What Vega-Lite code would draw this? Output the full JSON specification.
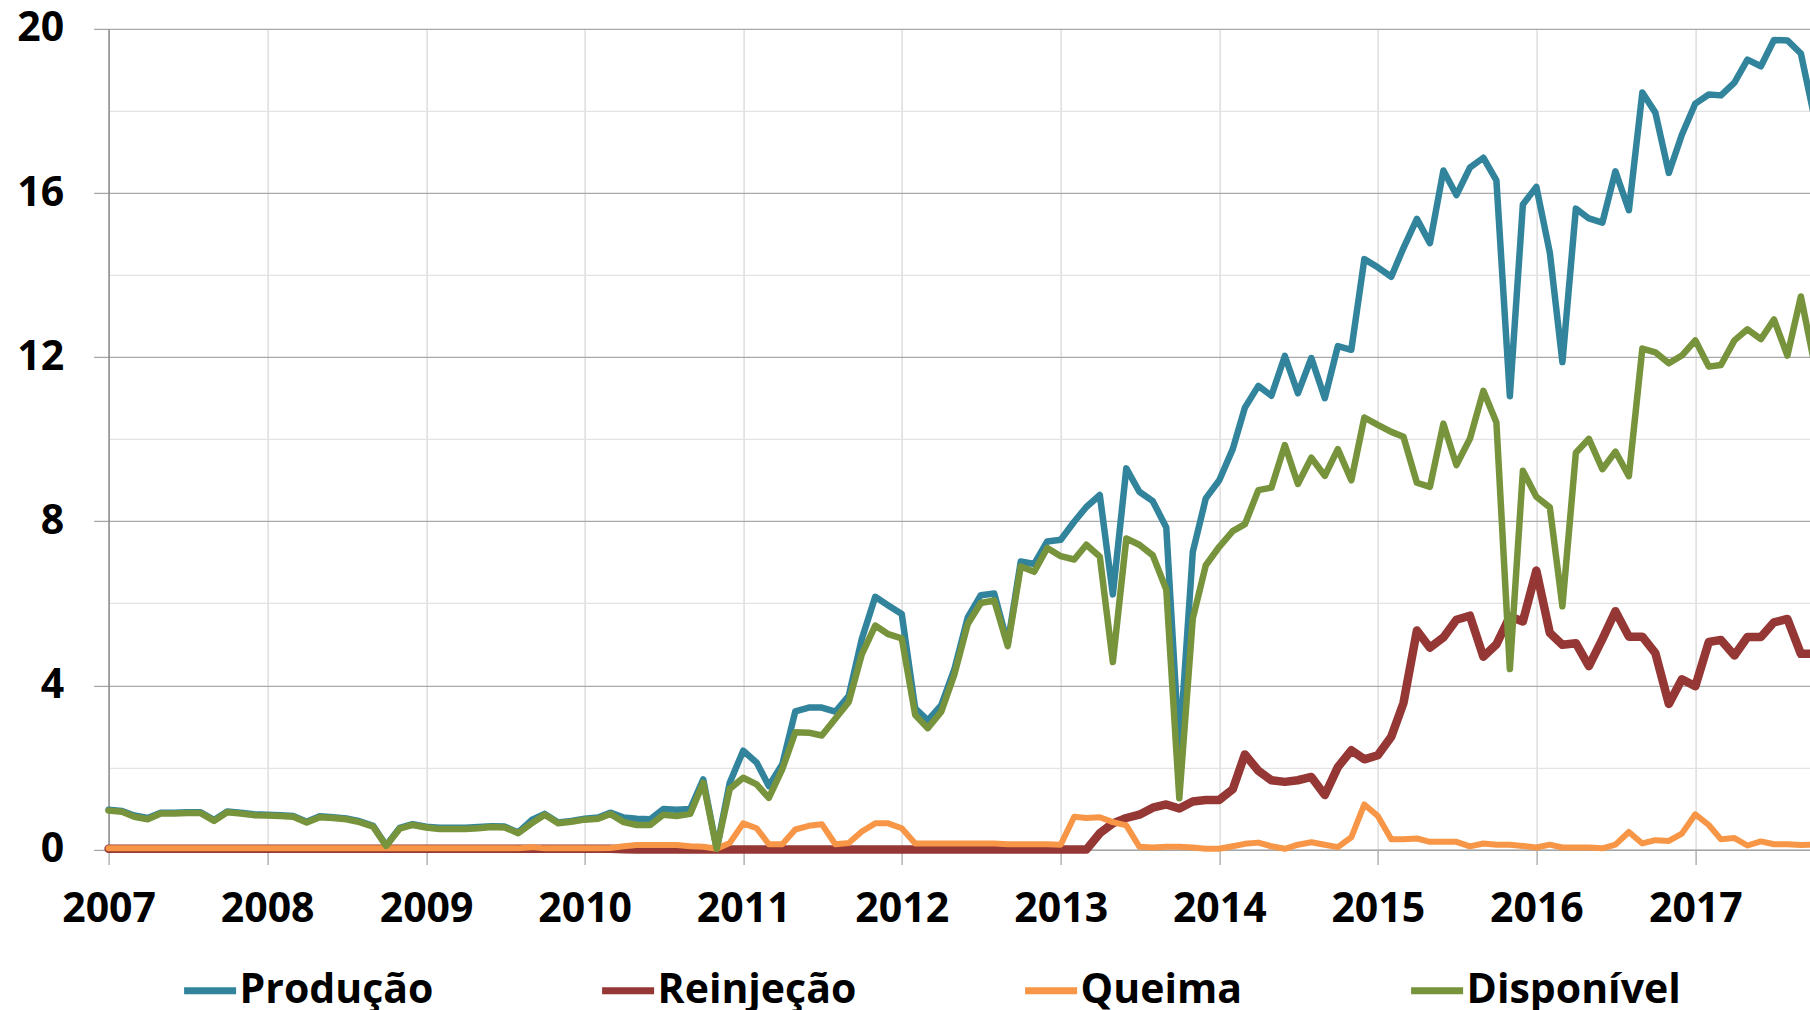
{
"$schema": "https://vega.github.io/schema/vega-lite/v6.json",
"width": 1701.4,
"height": 820.7,
"autosize": {"type": "none"},
"padding": {"left": 108.6, "top": 28.9, "right": 0, "bottom": 160.4},
"background": "white",
"config": {"view": {"stroke": null}, "font": "Open Sans"},
"data": {"values": [
{"d":"2007-01-01","s":"Produção","v":0.97},{"d":"2007-02-01","s":"Produção","v":0.94},{"d":"2007-03-01","s":"Produção","v":0.83},{"d":"2007-04-01","s":"Produção","v":0.77},{"d":"2007-05-01","s":"Produção","v":0.90},{"d":"2007-06-01","s":"Produção","v":0.90},{"d":"2007-07-01","s":"Produção","v":0.91},{"d":"2007-08-01","s":"Produção","v":0.91},{"d":"2007-09-01","s":"Produção","v":0.72},{"d":"2007-10-01","s":"Produção","v":0.93},{"d":"2007-11-01","s":"Produção","v":0.90},{"d":"2007-12-01","s":"Produção","v":0.86},
{"d":"2008-01-01","s":"Produção","v":0.85},{"d":"2008-02-01","s":"Produção","v":0.84},{"d":"2008-03-01","s":"Produção","v":0.82},{"d":"2008-04-01","s":"Produção","v":0.68},{"d":"2008-05-01","s":"Produção","v":0.81},{"d":"2008-06-01","s":"Produção","v":0.79},{"d":"2008-07-01","s":"Produção","v":0.76},{"d":"2008-08-01","s":"Produção","v":0.69},{"d":"2008-09-01","s":"Produção","v":0.58},{"d":"2008-10-01","s":"Produção","v":0.10},{"d":"2008-11-01","s":"Produção","v":0.53},{"d":"2008-12-01","s":"Produção","v":0.62},
{"d":"2009-01-01","s":"Produção","v":0.56},{"d":"2009-02-01","s":"Produção","v":0.53},{"d":"2009-03-01","s":"Produção","v":0.53},{"d":"2009-04-01","s":"Produção","v":0.53},{"d":"2009-05-01","s":"Produção","v":0.55},{"d":"2009-06-01","s":"Produção","v":0.57},{"d":"2009-07-01","s":"Produção","v":0.56},{"d":"2009-08-01","s":"Produção","v":0.42},{"d":"2009-09-01","s":"Produção","v":0.72},{"d":"2009-10-01","s":"Produção","v":0.87},{"d":"2009-11-01","s":"Produção","v":0.66},{"d":"2009-12-01","s":"Produção","v":0.70},
{"d":"2010-01-01","s":"Produção","v":0.75},{"d":"2010-02-01","s":"Produção","v":0.78},{"d":"2010-03-01","s":"Produção","v":0.90},{"d":"2010-04-01","s":"Produção","v":0.78},{"d":"2010-05-01","s":"Produção","v":0.75},{"d":"2010-06-01","s":"Produção","v":0.74},{"d":"2010-07-01","s":"Produção","v":0.99},{"d":"2010-08-01","s":"Produção","v":0.97},{"d":"2010-09-01","s":"Produção","v":0.99},{"d":"2010-10-01","s":"Produção","v":1.71},{"d":"2010-11-01","s":"Produção","v":0.02},{"d":"2010-12-01","s":"Produção","v":1.63},
{"d":"2011-01-01","s":"Produção","v":2.41},{"d":"2011-02-01","s":"Produção","v":2.12},{"d":"2011-03-01","s":"Produção","v":1.55},{"d":"2011-04-01","s":"Produção","v":2.08},{"d":"2011-05-01","s":"Produção","v":3.37},{"d":"2011-06-01","s":"Produção","v":3.46},{"d":"2011-07-01","s":"Produção","v":3.46},{"d":"2011-08-01","s":"Produção","v":3.36},{"d":"2011-09-01","s":"Produção","v":3.75},{"d":"2011-10-01","s":"Produção","v":5.13},{"d":"2011-11-01","s":"Produção","v":6.16},{"d":"2011-12-01","s":"Produção","v":5.95},
{"d":"2012-01-01","s":"Produção","v":5.74},{"d":"2012-02-01","s":"Produção","v":3.44},{"d":"2012-03-01","s":"Produção","v":3.15},{"d":"2012-04-01","s":"Produção","v":3.52},{"d":"2012-05-01","s":"Produção","v":4.39},{"d":"2012-06-01","s":"Produção","v":5.66},{"d":"2012-07-01","s":"Produção","v":6.20},{"d":"2012-08-01","s":"Produção","v":6.24},{"d":"2012-09-01","s":"Produção","v":5.02},{"d":"2012-10-01","s":"Produção","v":7.02},{"d":"2012-11-01","s":"Produção","v":6.96},{"d":"2012-12-01","s":"Produção","v":7.51},
{"d":"2013-01-01","s":"Produção","v":7.55},{"d":"2013-02-01","s":"Produção","v":7.99},{"d":"2013-03-01","s":"Produção","v":8.35},{"d":"2013-04-01","s":"Produção","v":8.64},{"d":"2013-05-01","s":"Produção","v":6.22},{"d":"2013-06-01","s":"Produção","v":9.29},{"d":"2013-07-01","s":"Produção","v":8.72},{"d":"2013-08-01","s":"Produção","v":8.49},{"d":"2013-09-01","s":"Produção","v":7.85},{"d":"2013-10-01","s":"Produção","v":2.40},{"d":"2013-11-01","s":"Produção","v":7.25},{"d":"2013-12-01","s":"Produção","v":8.56},
{"d":"2014-01-01","s":"Produção","v":9.00},{"d":"2014-02-01","s":"Produção","v":9.76},{"d":"2014-03-01","s":"Produção","v":10.77},{"d":"2014-04-01","s":"Produção","v":11.30},{"d":"2014-05-01","s":"Produção","v":11.06},{"d":"2014-06-01","s":"Produção","v":12.03},{"d":"2014-07-01","s":"Produção","v":11.12},{"d":"2014-08-01","s":"Produção","v":11.98},{"d":"2014-09-01","s":"Produção","v":11.00},{"d":"2014-10-01","s":"Produção","v":12.27},{"d":"2014-11-01","s":"Produção","v":12.18},{"d":"2014-12-01","s":"Produção","v":14.39},
{"d":"2015-01-01","s":"Produção","v":14.19},{"d":"2015-02-01","s":"Produção","v":13.96},{"d":"2015-03-01","s":"Produção","v":14.66},{"d":"2015-04-01","s":"Produção","v":15.37},{"d":"2015-05-01","s":"Produção","v":14.78},{"d":"2015-06-01","s":"Produção","v":16.55},{"d":"2015-07-01","s":"Produção","v":15.95},{"d":"2015-08-01","s":"Produção","v":16.62},{"d":"2015-09-01","s":"Produção","v":16.86},{"d":"2015-10-01","s":"Produção","v":16.31},{"d":"2015-11-01","s":"Produção","v":11.05},{"d":"2015-12-01","s":"Produção","v":15.72},
{"d":"2016-01-01","s":"Produção","v":16.15},{"d":"2016-02-01","s":"Produção","v":14.55},{"d":"2016-03-01","s":"Produção","v":11.88},{"d":"2016-04-01","s":"Produção","v":15.62},{"d":"2016-05-01","s":"Produção","v":15.38},{"d":"2016-06-01","s":"Produção","v":15.28},{"d":"2016-07-01","s":"Produção","v":16.53},{"d":"2016-08-01","s":"Produção","v":15.58},{"d":"2016-09-01","s":"Produção","v":18.45},{"d":"2016-10-01","s":"Produção","v":17.96},{"d":"2016-11-01","s":"Produção","v":16.49},{"d":"2016-12-01","s":"Produção","v":17.42},
{"d":"2017-01-01","s":"Produção","v":18.18},{"d":"2017-02-01","s":"Produção","v":18.40},{"d":"2017-03-01","s":"Produção","v":18.38},{"d":"2017-04-01","s":"Produção","v":18.69},{"d":"2017-05-01","s":"Produção","v":19.25},{"d":"2017-06-01","s":"Produção","v":19.09},{"d":"2017-07-01","s":"Produção","v":19.73},{"d":"2017-08-01","s":"Produção","v":19.72},{"d":"2017-09-01","s":"Produção","v":19.40},{"d":"2017-10-01","s":"Produção","v":17.90},

{"d":"2007-01-01","s":"Reinjeção","v":0.02},{"d":"2007-02-01","s":"Reinjeção","v":0.02},{"d":"2007-03-01","s":"Reinjeção","v":0.02},{"d":"2007-04-01","s":"Reinjeção","v":0.02},{"d":"2007-05-01","s":"Reinjeção","v":0.02},{"d":"2007-06-01","s":"Reinjeção","v":0.02},{"d":"2007-07-01","s":"Reinjeção","v":0.02},{"d":"2007-08-01","s":"Reinjeção","v":0.02},{"d":"2007-09-01","s":"Reinjeção","v":0.02},{"d":"2007-10-01","s":"Reinjeção","v":0.02},{"d":"2007-11-01","s":"Reinjeção","v":0.02},{"d":"2007-12-01","s":"Reinjeção","v":0.02},
{"d":"2008-01-01","s":"Reinjeção","v":0.02},{"d":"2008-02-01","s":"Reinjeção","v":0.02},{"d":"2008-03-01","s":"Reinjeção","v":0.02},{"d":"2008-04-01","s":"Reinjeção","v":0.02},{"d":"2008-05-01","s":"Reinjeção","v":0.02},{"d":"2008-06-01","s":"Reinjeção","v":0.02},{"d":"2008-07-01","s":"Reinjeção","v":0.02},{"d":"2008-08-01","s":"Reinjeção","v":0.02},{"d":"2008-09-01","s":"Reinjeção","v":0.02},{"d":"2008-10-01","s":"Reinjeção","v":0.02},{"d":"2008-11-01","s":"Reinjeção","v":0.02},{"d":"2008-12-01","s":"Reinjeção","v":0.02},
{"d":"2009-01-01","s":"Reinjeção","v":0.02},{"d":"2009-02-01","s":"Reinjeção","v":0.02},{"d":"2009-03-01","s":"Reinjeção","v":0.02},{"d":"2009-04-01","s":"Reinjeção","v":0.02},{"d":"2009-05-01","s":"Reinjeção","v":0.02},{"d":"2009-06-01","s":"Reinjeção","v":0.02},{"d":"2009-07-01","s":"Reinjeção","v":0.02},{"d":"2009-08-01","s":"Reinjeção","v":0.02},{"d":"2009-09-01","s":"Reinjeção","v":0.02},{"d":"2009-10-01","s":"Reinjeção","v":0.02},{"d":"2009-11-01","s":"Reinjeção","v":0.02},{"d":"2009-12-01","s":"Reinjeção","v":0.02},
{"d":"2010-01-01","s":"Reinjeção","v":0.02},{"d":"2010-02-01","s":"Reinjeção","v":0.02},{"d":"2010-03-01","s":"Reinjeção","v":0.02},{"d":"2010-04-01","s":"Reinjeção","v":0.01},{"d":"2010-05-01","s":"Reinjeção","v":0.0},{"d":"2010-06-01","s":"Reinjeção","v":0.0},{"d":"2010-07-01","s":"Reinjeção","v":0.0},{"d":"2010-08-01","s":"Reinjeção","v":0.0},{"d":"2010-09-01","s":"Reinjeção","v":0.0},{"d":"2010-10-01","s":"Reinjeção","v":0.0},{"d":"2010-11-01","s":"Reinjeção","v":0.0},{"d":"2010-12-01","s":"Reinjeção","v":0.0},
{"d":"2011-01-01","s":"Reinjeção","v":0.0},{"d":"2011-02-01","s":"Reinjeção","v":0.0},{"d":"2011-03-01","s":"Reinjeção","v":0.0},{"d":"2011-04-01","s":"Reinjeção","v":0.0},{"d":"2011-05-01","s":"Reinjeção","v":0.0},{"d":"2011-06-01","s":"Reinjeção","v":0.0},{"d":"2011-07-01","s":"Reinjeção","v":0.0},{"d":"2011-08-01","s":"Reinjeção","v":0.0},{"d":"2011-09-01","s":"Reinjeção","v":0.0},{"d":"2011-10-01","s":"Reinjeção","v":0.0},{"d":"2011-11-01","s":"Reinjeção","v":0.0},{"d":"2011-12-01","s":"Reinjeção","v":0.0},
{"d":"2012-01-01","s":"Reinjeção","v":0.0},{"d":"2012-02-01","s":"Reinjeção","v":0.0},{"d":"2012-03-01","s":"Reinjeção","v":0.0},{"d":"2012-04-01","s":"Reinjeção","v":0.0},{"d":"2012-05-01","s":"Reinjeção","v":0.0},{"d":"2012-06-01","s":"Reinjeção","v":0.0},{"d":"2012-07-01","s":"Reinjeção","v":0.0},{"d":"2012-08-01","s":"Reinjeção","v":0.0},{"d":"2012-09-01","s":"Reinjeção","v":0.0},{"d":"2012-10-01","s":"Reinjeção","v":0.0},{"d":"2012-11-01","s":"Reinjeção","v":0.0},{"d":"2012-12-01","s":"Reinjeção","v":0.0},
{"d":"2013-01-01","s":"Reinjeção","v":0.0},{"d":"2013-02-01","s":"Reinjeção","v":0.0},{"d":"2013-03-01","s":"Reinjeção","v":0.0},{"d":"2013-04-01","s":"Reinjeção","v":0.40},{"d":"2013-05-01","s":"Reinjeção","v":0.64},{"d":"2013-06-01","s":"Reinjeção","v":0.77},{"d":"2013-07-01","s":"Reinjeção","v":0.85},{"d":"2013-08-01","s":"Reinjeção","v":1.02},{"d":"2013-09-01","s":"Reinjeção","v":1.10},{"d":"2013-10-01","s":"Reinjeção","v":1.00},{"d":"2013-11-01","s":"Reinjeção","v":1.17},{"d":"2013-12-01","s":"Reinjeção","v":1.21},
{"d":"2014-01-01","s":"Reinjeção","v":1.21},{"d":"2014-02-01","s":"Reinjeção","v":1.47},{"d":"2014-03-01","s":"Reinjeção","v":2.32},{"d":"2014-04-01","s":"Reinjeção","v":1.92},{"d":"2014-05-01","s":"Reinjeção","v":1.69},{"d":"2014-06-01","s":"Reinjeção","v":1.65},{"d":"2014-07-01","s":"Reinjeção","v":1.69},{"d":"2014-08-01","s":"Reinjeção","v":1.77},{"d":"2014-09-01","s":"Reinjeção","v":1.33},{"d":"2014-10-01","s":"Reinjeção","v":2.01},{"d":"2014-11-01","s":"Reinjeção","v":2.42},{"d":"2014-12-01","s":"Reinjeção","v":2.20},
{"d":"2015-01-01","s":"Reinjeção","v":2.30},{"d":"2015-02-01","s":"Reinjeção","v":2.75},{"d":"2015-03-01","s":"Reinjeção","v":3.57},{"d":"2015-04-01","s":"Reinjeção","v":5.34},{"d":"2015-05-01","s":"Reinjeção","v":4.92},{"d":"2015-06-01","s":"Reinjeção","v":5.17},{"d":"2015-07-01","s":"Reinjeção","v":5.60},{"d":"2015-08-01","s":"Reinjeção","v":5.70},{"d":"2015-09-01","s":"Reinjeção","v":4.70},{"d":"2015-10-01","s":"Reinjeção","v":5.00},{"d":"2015-11-01","s":"Reinjeção","v":5.68},{"d":"2015-12-01","s":"Reinjeção","v":5.56},
{"d":"2016-01-01","s":"Reinjeção","v":6.80},{"d":"2016-02-01","s":"Reinjeção","v":5.28},{"d":"2016-03-01","s":"Reinjeção","v":4.99},{"d":"2016-04-01","s":"Reinjeção","v":5.03},{"d":"2016-05-01","s":"Reinjeção","v":4.47},{"d":"2016-06-01","s":"Reinjeção","v":5.13},{"d":"2016-07-01","s":"Reinjeção","v":5.81},{"d":"2016-08-01","s":"Reinjeção","v":5.19},{"d":"2016-09-01","s":"Reinjeção","v":5.19},{"d":"2016-10-01","s":"Reinjeção","v":4.79},{"d":"2016-11-01","s":"Reinjeção","v":3.55},{"d":"2016-12-01","s":"Reinjeção","v":4.15},
{"d":"2017-01-01","s":"Reinjeção","v":3.98},{"d":"2017-02-01","s":"Reinjeção","v":5.06},{"d":"2017-03-01","s":"Reinjeção","v":5.11},{"d":"2017-04-01","s":"Reinjeção","v":4.73},{"d":"2017-05-01","s":"Reinjeção","v":5.18},{"d":"2017-06-01","s":"Reinjeção","v":5.18},{"d":"2017-07-01","s":"Reinjeção","v":5.54},{"d":"2017-08-01","s":"Reinjeção","v":5.62},{"d":"2017-09-01","s":"Reinjeção","v":4.77},{"d":"2017-10-01","s":"Reinjeção","v":4.77},

{"d":"2007-01-01","s":"Queima","v":0.03},{"d":"2007-02-01","s":"Queima","v":0.03},{"d":"2007-03-01","s":"Queima","v":0.03},{"d":"2007-04-01","s":"Queima","v":0.03},{"d":"2007-05-01","s":"Queima","v":0.03},{"d":"2007-06-01","s":"Queima","v":0.03},{"d":"2007-07-01","s":"Queima","v":0.03},{"d":"2007-08-01","s":"Queima","v":0.03},{"d":"2007-09-01","s":"Queima","v":0.03},{"d":"2007-10-01","s":"Queima","v":0.03},{"d":"2007-11-01","s":"Queima","v":0.03},{"d":"2007-12-01","s":"Queima","v":0.03},
{"d":"2008-01-01","s":"Queima","v":0.03},{"d":"2008-02-01","s":"Queima","v":0.03},{"d":"2008-03-01","s":"Queima","v":0.03},{"d":"2008-04-01","s":"Queima","v":0.03},{"d":"2008-05-01","s":"Queima","v":0.03},{"d":"2008-06-01","s":"Queima","v":0.03},{"d":"2008-07-01","s":"Queima","v":0.03},{"d":"2008-08-01","s":"Queima","v":0.03},{"d":"2008-09-01","s":"Queima","v":0.03},{"d":"2008-10-01","s":"Queima","v":0.03},{"d":"2008-11-01","s":"Queima","v":0.03},{"d":"2008-12-01","s":"Queima","v":0.03},
{"d":"2009-01-01","s":"Queima","v":0.03},{"d":"2009-02-01","s":"Queima","v":0.03},{"d":"2009-03-01","s":"Queima","v":0.03},{"d":"2009-04-01","s":"Queima","v":0.03},{"d":"2009-05-01","s":"Queima","v":0.03},{"d":"2009-06-01","s":"Queima","v":0.03},{"d":"2009-07-01","s":"Queima","v":0.03},{"d":"2009-08-01","s":"Queima","v":0.03},{"d":"2009-09-01","s":"Queima","v":0.06},{"d":"2009-10-01","s":"Queima","v":0.03},{"d":"2009-11-01","s":"Queima","v":0.03},{"d":"2009-12-01","s":"Queima","v":0.03},
{"d":"2010-01-01","s":"Queima","v":0.03},{"d":"2010-02-01","s":"Queima","v":0.03},{"d":"2010-03-01","s":"Queima","v":0.04},{"d":"2010-04-01","s":"Queima","v":0.08},{"d":"2010-05-01","s":"Queima","v":0.11},{"d":"2010-06-01","s":"Queima","v":0.11},{"d":"2010-07-01","s":"Queima","v":0.11},{"d":"2010-08-01","s":"Queima","v":0.11},{"d":"2010-09-01","s":"Queima","v":0.08},{"d":"2010-10-01","s":"Queima","v":0.07},{"d":"2010-11-01","s":"Queima","v":0.02},{"d":"2010-12-01","s":"Queima","v":0.16},
{"d":"2011-01-01","s":"Queima","v":0.64},{"d":"2011-02-01","s":"Queima","v":0.52},{"d":"2011-03-01","s":"Queima","v":0.13},{"d":"2011-04-01","s":"Queima","v":0.13},{"d":"2011-05-01","s":"Queima","v":0.49},{"d":"2011-06-01","s":"Queima","v":0.58},{"d":"2011-07-01","s":"Queima","v":0.62},{"d":"2011-08-01","s":"Queima","v":0.13},{"d":"2011-09-01","s":"Queima","v":0.16},{"d":"2011-10-01","s":"Queima","v":0.44},{"d":"2011-11-01","s":"Queima","v":0.64},{"d":"2011-12-01","s":"Queima","v":0.64},
{"d":"2012-01-01","s":"Queima","v":0.52},{"d":"2012-02-01","s":"Queima","v":0.15},{"d":"2012-03-01","s":"Queima","v":0.15},{"d":"2012-04-01","s":"Queima","v":0.15},{"d":"2012-05-01","s":"Queima","v":0.15},{"d":"2012-06-01","s":"Queima","v":0.15},{"d":"2012-07-01","s":"Queima","v":0.15},{"d":"2012-08-01","s":"Queima","v":0.15},{"d":"2012-09-01","s":"Queima","v":0.13},{"d":"2012-10-01","s":"Queima","v":0.13},{"d":"2012-11-01","s":"Queima","v":0.13},{"d":"2012-12-01","s":"Queima","v":0.13},
{"d":"2013-01-01","s":"Queima","v":0.12},{"d":"2013-02-01","s":"Queima","v":0.80},{"d":"2013-03-01","s":"Queima","v":0.77},{"d":"2013-04-01","s":"Queima","v":0.79},{"d":"2013-05-01","s":"Queima","v":0.67},{"d":"2013-06-01","s":"Queima","v":0.59},{"d":"2013-07-01","s":"Queima","v":0.07},{"d":"2013-08-01","s":"Queima","v":0.05},{"d":"2013-09-01","s":"Queima","v":0.07},{"d":"2013-10-01","s":"Queima","v":0.07},{"d":"2013-11-01","s":"Queima","v":0.05},{"d":"2013-12-01","s":"Queima","v":0.02},
{"d":"2014-01-01","s":"Queima","v":0.02},{"d":"2014-02-01","s":"Queima","v":0.08},{"d":"2014-03-01","s":"Queima","v":0.14},{"d":"2014-04-01","s":"Queima","v":0.17},{"d":"2014-05-01","s":"Queima","v":0.08},{"d":"2014-06-01","s":"Queima","v":0.02},{"d":"2014-07-01","s":"Queima","v":0.12},{"d":"2014-08-01","s":"Queima","v":0.18},{"d":"2014-09-01","s":"Queima","v":0.12},{"d":"2014-10-01","s":"Queima","v":0.06},{"d":"2014-11-01","s":"Queima","v":0.30},{"d":"2014-12-01","s":"Queima","v":1.10},
{"d":"2015-01-01","s":"Queima","v":0.82},{"d":"2015-02-01","s":"Queima","v":0.25},{"d":"2015-03-01","s":"Queima","v":0.25},{"d":"2015-04-01","s":"Queima","v":0.27},{"d":"2015-05-01","s":"Queima","v":0.19},{"d":"2015-06-01","s":"Queima","v":0.19},{"d":"2015-07-01","s":"Queima","v":0.19},{"d":"2015-08-01","s":"Queima","v":0.08},{"d":"2015-09-01","s":"Queima","v":0.15},{"d":"2015-10-01","s":"Queima","v":0.12},{"d":"2015-11-01","s":"Queima","v":0.12},{"d":"2015-12-01","s":"Queima","v":0.09},
{"d":"2016-01-01","s":"Queima","v":0.05},{"d":"2016-02-01","s":"Queima","v":0.12},{"d":"2016-03-01","s":"Queima","v":0.05},{"d":"2016-04-01","s":"Queima","v":0.05},{"d":"2016-05-01","s":"Queima","v":0.05},{"d":"2016-06-01","s":"Queima","v":0.03},{"d":"2016-07-01","s":"Queima","v":0.12},{"d":"2016-08-01","s":"Queima","v":0.43},{"d":"2016-09-01","s":"Queima","v":0.15},{"d":"2016-10-01","s":"Queima","v":0.23},{"d":"2016-11-01","s":"Queima","v":0.21},{"d":"2016-12-01","s":"Queima","v":0.39},
{"d":"2017-01-01","s":"Queima","v":0.86},{"d":"2017-02-01","s":"Queima","v":0.60},{"d":"2017-03-01","s":"Queima","v":0.25},{"d":"2017-04-01","s":"Queima","v":0.28},{"d":"2017-05-01","s":"Queima","v":0.10},{"d":"2017-06-01","s":"Queima","v":0.20},{"d":"2017-07-01","s":"Queima","v":0.13},{"d":"2017-08-01","s":"Queima","v":0.13},{"d":"2017-09-01","s":"Queima","v":0.11},{"d":"2017-10-01","s":"Queima","v":0.12},

{"d":"2007-01-01","s":"Disponível","v":0.95},{"d":"2007-02-01","s":"Disponível","v":0.92},{"d":"2007-03-01","s":"Disponível","v":0.80},{"d":"2007-04-01","s":"Disponível","v":0.74},{"d":"2007-05-01","s":"Disponível","v":0.88},{"d":"2007-06-01","s":"Disponível","v":0.88},{"d":"2007-07-01","s":"Disponível","v":0.89},{"d":"2007-08-01","s":"Disponível","v":0.89},{"d":"2007-09-01","s":"Disponível","v":0.70},{"d":"2007-10-01","s":"Disponível","v":0.91},{"d":"2007-11-01","s":"Disponível","v":0.88},{"d":"2007-12-01","s":"Disponível","v":0.84},
{"d":"2008-01-01","s":"Disponível","v":0.83},{"d":"2008-02-01","s":"Disponível","v":0.82},{"d":"2008-03-01","s":"Disponível","v":0.80},{"d":"2008-04-01","s":"Disponível","v":0.66},{"d":"2008-05-01","s":"Disponível","v":0.79},{"d":"2008-06-01","s":"Disponível","v":0.77},{"d":"2008-07-01","s":"Disponível","v":0.74},{"d":"2008-08-01","s":"Disponível","v":0.67},{"d":"2008-09-01","s":"Disponível","v":0.56},{"d":"2008-10-01","s":"Disponível","v":0.09},{"d":"2008-11-01","s":"Disponível","v":0.51},{"d":"2008-12-01","s":"Disponível","v":0.60},
{"d":"2009-01-01","s":"Disponível","v":0.54},{"d":"2009-02-01","s":"Disponível","v":0.50},{"d":"2009-03-01","s":"Disponível","v":0.50},{"d":"2009-04-01","s":"Disponível","v":0.50},{"d":"2009-05-01","s":"Disponível","v":0.52},{"d":"2009-06-01","s":"Disponível","v":0.55},{"d":"2009-07-01","s":"Disponível","v":0.54},{"d":"2009-08-01","s":"Disponível","v":0.40},{"d":"2009-09-01","s":"Disponível","v":0.64},{"d":"2009-10-01","s":"Disponível","v":0.85},{"d":"2009-11-01","s":"Disponível","v":0.64},{"d":"2009-12-01","s":"Disponível","v":0.68},
{"d":"2010-01-01","s":"Disponível","v":0.73},{"d":"2010-02-01","s":"Disponível","v":0.75},{"d":"2010-03-01","s":"Disponível","v":0.87},{"d":"2010-04-01","s":"Disponível","v":0.67},{"d":"2010-05-01","s":"Disponível","v":0.60},{"d":"2010-06-01","s":"Disponível","v":0.60},{"d":"2010-07-01","s":"Disponível","v":0.85},{"d":"2010-08-01","s":"Disponível","v":0.82},{"d":"2010-09-01","s":"Disponível","v":0.87},{"d":"2010-10-01","s":"Disponível","v":1.63},{"d":"2010-11-01","s":"Disponível","v":0.02},{"d":"2010-12-01","s":"Disponível","v":1.48},
{"d":"2011-01-01","s":"Disponível","v":1.75},{"d":"2011-02-01","s":"Disponível","v":1.59},{"d":"2011-03-01","s":"Disponível","v":1.26},{"d":"2011-04-01","s":"Disponível","v":1.96},{"d":"2011-05-01","s":"Disponível","v":2.86},{"d":"2011-06-01","s":"Disponível","v":2.85},{"d":"2011-07-01","s":"Disponível","v":2.78},{"d":"2011-08-01","s":"Disponível","v":3.19},{"d":"2011-09-01","s":"Disponível","v":3.60},{"d":"2011-10-01","s":"Disponível","v":4.76},{"d":"2011-11-01","s":"Disponível","v":5.46},{"d":"2011-12-01","s":"Disponível","v":5.25},
{"d":"2012-01-01","s":"Disponível","v":5.15},{"d":"2012-02-01","s":"Disponível","v":3.28},{"d":"2012-03-01","s":"Disponível","v":2.96},{"d":"2012-04-01","s":"Disponível","v":3.36},{"d":"2012-05-01","s":"Disponível","v":4.26},{"d":"2012-06-01","s":"Disponível","v":5.50},{"d":"2012-07-01","s":"Disponível","v":6.01},{"d":"2012-08-01","s":"Disponível","v":6.07},{"d":"2012-09-01","s":"Disponível","v":4.96},{"d":"2012-10-01","s":"Disponível","v":6.90},{"d":"2012-11-01","s":"Disponível","v":6.77},{"d":"2012-12-01","s":"Disponível","v":7.35},
{"d":"2013-01-01","s":"Disponível","v":7.15},{"d":"2013-02-01","s":"Disponível","v":7.07},{"d":"2013-03-01","s":"Disponível","v":7.43},{"d":"2013-04-01","s":"Disponível","v":7.14},{"d":"2013-05-01","s":"Disponível","v":4.57},{"d":"2013-06-01","s":"Disponível","v":7.58},{"d":"2013-07-01","s":"Disponível","v":7.43},{"d":"2013-08-01","s":"Disponível","v":7.17},{"d":"2013-09-01","s":"Disponível","v":6.34},{"d":"2013-10-01","s":"Disponível","v":1.25},{"d":"2013-11-01","s":"Disponível","v":5.63},{"d":"2013-12-01","s":"Disponível","v":6.93},
{"d":"2014-01-01","s":"Disponível","v":7.38},{"d":"2014-02-01","s":"Disponível","v":7.76},{"d":"2014-03-01","s":"Disponível","v":7.93},{"d":"2014-04-01","s":"Disponível","v":8.76},{"d":"2014-05-01","s":"Disponível","v":8.82},{"d":"2014-06-01","s":"Disponível","v":9.86},{"d":"2014-07-01","s":"Disponível","v":8.91},{"d":"2014-08-01","s":"Disponível","v":9.55},{"d":"2014-09-01","s":"Disponível","v":9.11},{"d":"2014-10-01","s":"Disponível","v":9.76},{"d":"2014-11-01","s":"Disponível","v":9.00},{"d":"2014-12-01","s":"Disponível","v":10.53},
{"d":"2015-01-01","s":"Disponível","v":10.35},{"d":"2015-02-01","s":"Disponível","v":10.18},{"d":"2015-03-01","s":"Disponível","v":10.06},{"d":"2015-04-01","s":"Disponível","v":8.94},{"d":"2015-05-01","s":"Disponível","v":8.84},{"d":"2015-06-01","s":"Disponível","v":10.38},{"d":"2015-07-01","s":"Disponível","v":9.37},{"d":"2015-08-01","s":"Disponível","v":10.01},{"d":"2015-09-01","s":"Disponível","v":11.18},{"d":"2015-10-01","s":"Disponível","v":10.41},{"d":"2015-11-01","s":"Disponível","v":4.40},{"d":"2015-12-01","s":"Disponível","v":9.23},
{"d":"2016-01-01","s":"Disponível","v":8.60},{"d":"2016-02-01","s":"Disponível","v":8.34},{"d":"2016-03-01","s":"Disponível","v":5.93},{"d":"2016-04-01","s":"Disponível","v":9.67},{"d":"2016-05-01","s":"Disponível","v":10.01},{"d":"2016-06-01","s":"Disponível","v":9.27},{"d":"2016-07-01","s":"Disponível","v":9.70},{"d":"2016-08-01","s":"Disponível","v":9.10},{"d":"2016-09-01","s":"Disponível","v":12.21},{"d":"2016-10-01","s":"Disponível","v":12.12},{"d":"2016-11-01","s":"Disponível","v":11.85},{"d":"2016-12-01","s":"Disponível","v":12.04},
{"d":"2017-01-01","s":"Disponível","v":12.41},{"d":"2017-02-01","s":"Disponível","v":11.77},{"d":"2017-03-01","s":"Disponível","v":11.81},{"d":"2017-04-01","s":"Disponível","v":12.41},{"d":"2017-05-01","s":"Disponível","v":12.68},{"d":"2017-06-01","s":"Disponível","v":12.44},{"d":"2017-07-01","s":"Disponível","v":12.92},{"d":"2017-08-01","s":"Disponível","v":12.04},{"d":"2017-09-01","s":"Disponível","v":13.48},{"d":"2017-10-01","s":"Disponível","v":11.90}
]},
"encoding": {
  "x": {"field": "d", "type": "temporal",
    "scale": {"type": "utc", "nice": false, "domain": [{"year": 2007, "month": 1, "date": 1, "utc": true}, {"year": 2017, "month": 9, "date": 22, "utc": true}]},
    "axis": {"title": null, "tickCount": {"interval": "year", "step": 1}, "format": "%Y", "formatType": "utc",
      "labelFont": "Open Sans", "labelFontSize": 41, "labelFontWeight": "bold", "labelColor": "#000000",
      "labelPadding": 25, "labelFlush": false, "labelOverlap": false,
      "tickSize": 15, "tickColor": "#a6a6a6", "tickWidth": 1.3,
      "domainColor": "#a6a6a6", "domainWidth": 1.3,
      "grid": true, "gridColor": "#d9d9d9", "gridWidth": 1.3}},
  "y": {"field": "v", "type": "quantitative",
    "scale": {"domain": [0, 20], "nice": false, "zero": true},
    "axis": {"title": null, "values": [0, 2, 4, 6, 8, 10, 12, 14, 16, 18, 20],
      "labelExpr": "datum.value % 4 === 0 ? datum.label : ''",
      "labelFont": "Open Sans", "labelFontSize": 41, "labelFontWeight": "bold", "labelColor": "#000000",
      "labelPadding": 30, "labelFlush": false, "labelOverlap": false,
      "tickSize": 15, "tickColor": "#a6a6a6", "tickWidth": 1.3,
      "tickOpacity": {"condition": {"test": "datum.value % 4 === 0", "value": 1}, "value": 0},
      "domainColor": "#8c8c8c", "domainWidth": 1.5,
      "grid": true, "gridWidth": 1.3,
      "gridColor": {"condition": {"test": "datum.value % 4 === 0", "value": "#a9a9a9"}, "value": "#e3e3e3"}}},
  "color": {"field": "s", "type": "nominal",
    "scale": {"domain": ["Produção", "Reinjeção", "Queima", "Disponível"], "range": ["#31849B", "#953735", "#F79646", "#77933C"]},
    "legend": {"orient": "none", "legendX": 72, "legendY": 932, "direction": "horizontal", "title": null,
      "symbolType": "stroke", "symbolSize": 2704, "symbolStrokeWidth": 7,
      "labelFont": "Open Sans", "labelFontSize": 41, "labelFontWeight": "bold", "labelColor": "#000000",
      "labelOffset": 0, "labelLimit": 600, "columnPadding": 154, "padding": 0}}
},
"layer": [
  {"transform": [{"filter": "datum.s === 'Produção'"}], "mark": {"type": "line", "strokeWidth": 6.5, "strokeJoin": "round", "strokeCap": "round"}},
  {"transform": [{"filter": "datum.s === 'Reinjeção'"}], "mark": {"type": "line", "strokeWidth": 8.5, "strokeJoin": "round", "strokeCap": "round"}},
  {"transform": [{"filter": "datum.s === 'Queima'"}], "mark": {"type": "line", "strokeWidth": 6, "strokeJoin": "round", "strokeCap": "round"}},
  {"transform": [{"filter": "datum.s === 'Disponível'"}], "mark": {"type": "line", "strokeWidth": 6.5, "strokeJoin": "round", "strokeCap": "round"}}
]
}
